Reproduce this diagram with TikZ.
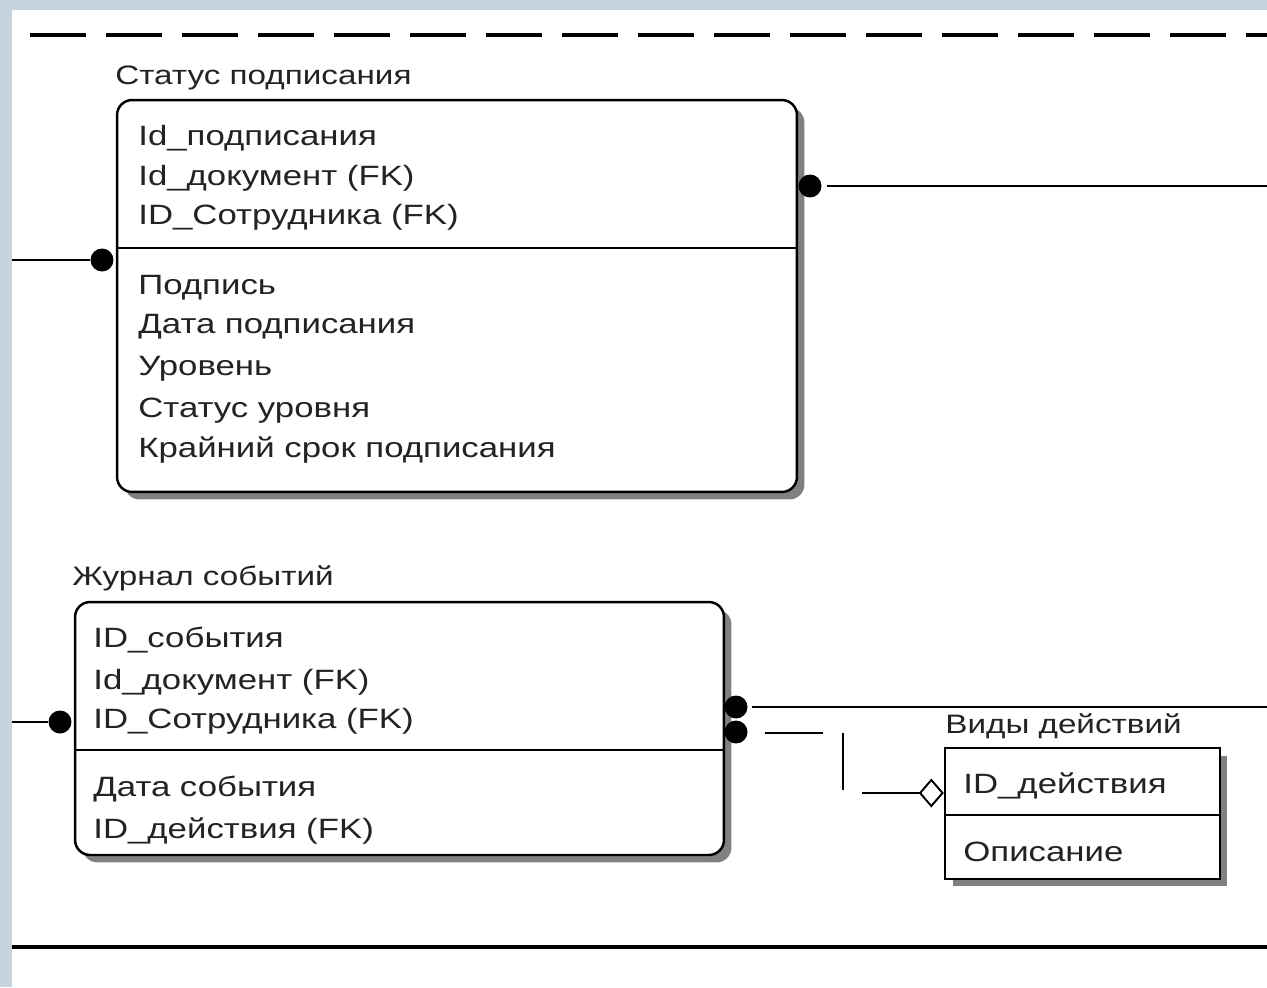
\documentclass[tikz,border=0pt]{standalone}
\usepackage{fontspec}
\setmainfont{Liberation Sans}[FakeStretch=1.245]
\usetikzlibrary{arrows.meta, shadows}
\definecolor{frame}{RGB}{200,212,221}
\definecolor{ink}{RGB}{35,35,35}
\tikzset{
    entity/.style={
        rectangle, draw=black, line width=1.4pt,
        fill=white, inner sep=0pt,
        drop shadow={shadow xshift=0.15cm, shadow yshift=-0.15cm,
                     fill=black!50, opacity=1}
    },
    dependent/.style={entity, rounded corners=0.3cm},
    attr/.style={anchor=base west, inner sep=0pt, text=ink,
        font=\fontsize{15.9}{19}\selectfont},
    title/.style={anchor=base west, inner sep=0pt, text=ink,
        font=\fontsize{15.2}{18}\selectfont},
    rel/.style={draw=black, line width=1.1pt},
    divider/.style={draw=black, line width=1.4pt},
    dot/.style={circle, fill=black, inner sep=0pt, minimum size=0.46cm}
}

\begin{document}
\begin{tikzpicture}[x=0.02cm, y=-0.02cm]
\useasboundingbox (0,0) rectangle (1267,987);
\fill[frame] (0,0) rectangle (1267,987);
\fill[white] (12,10) rectangle (1267,987);

% Boundaries
\draw[line width=1.9pt, dash pattern=on 1.12cm off 0.4cm] (30,35) -- (1267,35);
\draw[line width=1.8pt] (12,947) -- (1267,947);

% Статус подписания
\node[dependent, minimum width=13.6cm, minimum height=7.84cm] (stat) at (457,296) {};
\coordinate (sdiv) at (0,248);
\draw[divider] (stat.west |- sdiv) -- (stat.east |- sdiv);
\node[title] (stat-t) at (115,84) {Статус подписания};
\node[attr] (stat-a1) at (138,145) {Id\_подписания};
\node[attr] (stat-a2) at (138,185) {Id\_документ (FK)};
\node[attr] (stat-a3) at (138,224) {ID\_Сотрудника (FK)};
\node[attr] (stat-a4) at (138,294) {Подпись};
\node[attr] (stat-a5) at (138,333) {Дата подписания};
\node[attr] (stat-a6) at (138,375) {Уровень};
\node[attr] (stat-a7) at (138,417) {Статус уровня};
\node[attr] (stat-a8) at (138,457) {Крайний срок подписания};

% Журнал событий
\node[dependent, minimum width=12.98cm, minimum height=5.06cm] (jour) at (399.5,728.5) {};
\coordinate (jdiv) at (0,750);
\draw[divider] (jour.west |- jdiv) -- (jour.east |- jdiv);
\node[title] (jour-t) at (72,585) {Журнал событий};
\node[attr] (jour-a1) at (93,647) {ID\_события};
\node[attr] (jour-a2) at (93,689) {Id\_документ (FK)};
\node[attr] (jour-a3) at (93,728) {ID\_Сотрудника (FK)};
\node[attr] (jour-a4) at (93,796) {Дата события};
\node[attr] (jour-a5) at (93,838) {ID\_действия (FK)};

% Виды действий
\node[entity, minimum width=5.5cm, minimum height=2.62cm] (vid) at (1082.5,813.5) {};
\coordinate (vdiv) at (0,815);
\draw[divider] (vid.west |- vdiv) -- (vid.east |- vdiv);
\node[title] (vid-t) at (945,733) {Виды действий};
\node[attr] (vid-a1) at (963,793) {ID\_действия};
\node[attr] (vid-a2) at (963,861) {Описание};

% Relationships
\coordinate (in1) at (12,260);
\node[dot] (k1) at (102,260) {};
\draw[rel] (in1) -- (k1);

\node[dot] (k2) at (810,186) {};
\coordinate (out1) at (1267,186);
\draw[rel, shorten <=0.1cm] (k2) -- (out1);

\coordinate (in2) at (12,722);
\node[dot] (k3) at (60,722) {};
\draw[rel] (in2) -- (k3);

\node[dot] (k4) at (736,707) {};
\coordinate (out2) at (1267,707);
\draw[rel, shorten <=0.08cm] (k4) -- (out2);

\node[dot] (k5) at (736,732) {};
\coordinate (b1) at (765,733);
\coordinate (b2) at (823,733);
\draw[rel] (b1) -- (b2);
\coordinate (b3) at (843,733);
\coordinate (b4) at (843,790);
\draw[rel] (b3) -- (b4);
\coordinate (b5) at (862,793);
\draw[rel, -{Diamond[open, length=0.5cm, width=0.58cm]}] (b5) -- (vid.west |- b5);

\end{tikzpicture}
\end{document}
